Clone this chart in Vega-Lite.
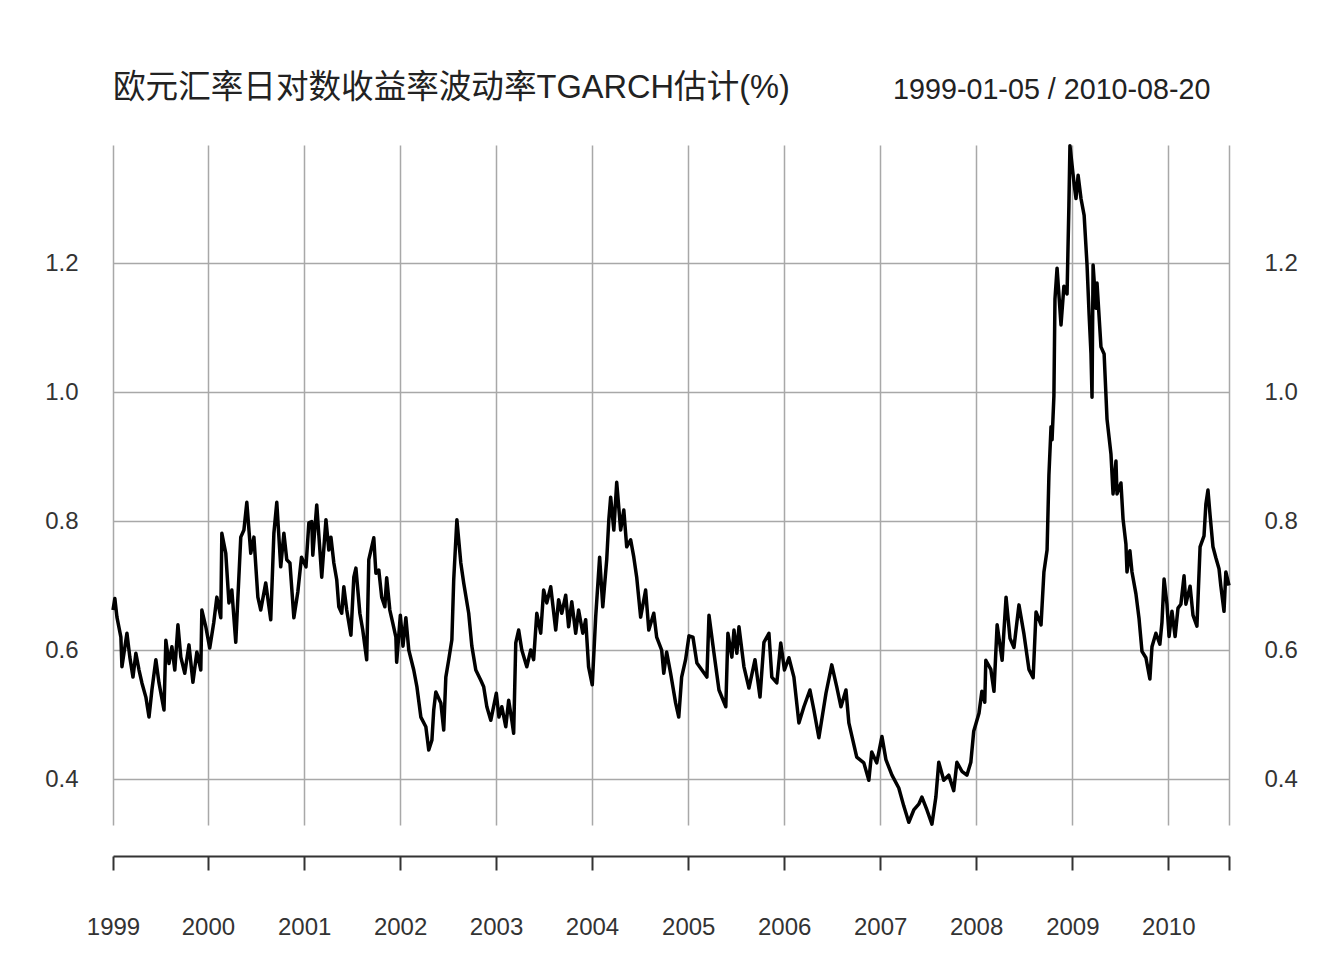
{
  "$schema": "https://vega.github.io/schema/vega-lite/v6.json",
  "width": 1116,
  "height": 680,
  "autosize": {"type": "none"},
  "padding": {"left": 113, "top": 145, "right": 115, "bottom": 135},
  "background": "white",
  "title": {
    "text": "欧元汇率日对数收益率波动率TGARCH估计(%)",
    "anchor": "start",
    "frame": "group",
    "orient": "top",
    "offset": 45,
    "dy": 101,
    "baseline": "alphabetic",
    "font": "Liberation Sans, Noto Sans CJK SC",
    "fontSize": 32.6,
    "fontWeight": "normal",
    "color": "#222222"
  },
  "config": {"view": {"stroke": null}},
  "datasets": {
    "vol": [
      {"date": "1999-01-05", "v": 0.662}, {"date": "1999-01-12", "v": 0.680}, {"date": "1999-01-20", "v": 0.651},
      {"date": "1999-02-04", "v": 0.620}, {"date": "1999-02-08", "v": 0.574}, {"date": "1999-02-27", "v": 0.626},
      {"date": "1999-03-10", "v": 0.589}, {"date": "1999-03-22", "v": 0.558}, {"date": "1999-04-02", "v": 0.595},
      {"date": "1999-04-14", "v": 0.569}, {"date": "1999-04-25", "v": 0.549}, {"date": "1999-05-10", "v": 0.527},
      {"date": "1999-05-22", "v": 0.496}, {"date": "1999-06-02", "v": 0.538}, {"date": "1999-06-17", "v": 0.585},
      {"date": "1999-06-29", "v": 0.549}, {"date": "1999-07-18", "v": 0.507}, {"date": "1999-07-25", "v": 0.615},
      {"date": "1999-08-06", "v": 0.579}, {"date": "1999-08-17", "v": 0.605}, {"date": "1999-08-28", "v": 0.569},
      {"date": "1999-09-09", "v": 0.639}, {"date": "1999-09-20", "v": 0.589}, {"date": "1999-10-05", "v": 0.564},
      {"date": "1999-10-21", "v": 0.608}, {"date": "1999-11-05", "v": 0.550}, {"date": "1999-11-20", "v": 0.597},
      {"date": "1999-12-05", "v": 0.569}, {"date": "1999-12-09", "v": 0.662}, {"date": "1999-12-24", "v": 0.636},
      {"date": "2000-01-08", "v": 0.603}, {"date": "2000-01-23", "v": 0.642}, {"date": "2000-02-04", "v": 0.682},
      {"date": "2000-02-19", "v": 0.650}, {"date": "2000-02-23", "v": 0.781}, {"date": "2000-03-09", "v": 0.750},
      {"date": "2000-03-21", "v": 0.673}, {"date": "2000-04-01", "v": 0.693}, {"date": "2000-04-16", "v": 0.612},
      {"date": "2000-05-05", "v": 0.775}, {"date": "2000-05-17", "v": 0.786}, {"date": "2000-05-28", "v": 0.829},
      {"date": "2000-06-12", "v": 0.750}, {"date": "2000-06-24", "v": 0.775}, {"date": "2000-07-09", "v": 0.682},
      {"date": "2000-07-20", "v": 0.662}, {"date": "2000-08-08", "v": 0.704}, {"date": "2000-08-27", "v": 0.647},
      {"date": "2000-09-08", "v": 0.781}, {"date": "2000-09-19", "v": 0.829}, {"date": "2000-10-04", "v": 0.729},
      {"date": "2000-10-16", "v": 0.781}, {"date": "2000-10-27", "v": 0.740}, {"date": "2000-11-08", "v": 0.735},
      {"date": "2000-11-23", "v": 0.650}, {"date": "2000-12-08", "v": 0.690}, {"date": "2000-12-22", "v": 0.744},
      {"date": "2001-01-08", "v": 0.729}, {"date": "2001-01-19", "v": 0.797}, {"date": "2001-01-30", "v": 0.799},
      {"date": "2001-02-03", "v": 0.747}, {"date": "2001-02-18", "v": 0.825}, {"date": "2001-03-09", "v": 0.713},
      {"date": "2001-03-25", "v": 0.802}, {"date": "2001-04-05", "v": 0.755}, {"date": "2001-04-13", "v": 0.775},
      {"date": "2001-04-24", "v": 0.735}, {"date": "2001-05-05", "v": 0.709}, {"date": "2001-05-13", "v": 0.667},
      {"date": "2001-05-24", "v": 0.657}, {"date": "2001-06-01", "v": 0.698}, {"date": "2001-06-12", "v": 0.662},
      {"date": "2001-06-28", "v": 0.623}, {"date": "2001-07-09", "v": 0.713}, {"date": "2001-07-17", "v": 0.727},
      {"date": "2001-08-01", "v": 0.657}, {"date": "2001-08-12", "v": 0.631}, {"date": "2001-08-27", "v": 0.585},
      {"date": "2001-09-04", "v": 0.740}, {"date": "2001-09-23", "v": 0.774}, {"date": "2001-10-01", "v": 0.719},
      {"date": "2001-10-12", "v": 0.724}, {"date": "2001-10-23", "v": 0.682}, {"date": "2001-11-04", "v": 0.667},
      {"date": "2001-11-11", "v": 0.712}, {"date": "2001-11-23", "v": 0.662}, {"date": "2001-12-04", "v": 0.642},
      {"date": "2001-12-16", "v": 0.620}, {"date": "2001-12-19", "v": 0.581},
      {"date": "2002-01-02", "v": 0.654}, {"date": "2002-01-12", "v": 0.606}, {"date": "2002-01-23", "v": 0.650},
      {"date": "2002-02-03", "v": 0.600}, {"date": "2002-02-22", "v": 0.569}, {"date": "2002-03-06", "v": 0.543},
      {"date": "2002-03-21", "v": 0.496}, {"date": "2002-04-09", "v": 0.481}, {"date": "2002-04-20", "v": 0.445},
      {"date": "2002-05-02", "v": 0.460}, {"date": "2002-05-09", "v": 0.507}, {"date": "2002-05-17", "v": 0.535},
      {"date": "2002-06-05", "v": 0.518}, {"date": "2002-06-16", "v": 0.476}, {"date": "2002-06-24", "v": 0.558},
      {"date": "2002-07-05", "v": 0.585}, {"date": "2002-07-17", "v": 0.616}, {"date": "2002-07-24", "v": 0.709},
      {"date": "2002-08-05", "v": 0.802}, {"date": "2002-08-20", "v": 0.735}, {"date": "2002-08-31", "v": 0.704},
      {"date": "2002-09-19", "v": 0.657}, {"date": "2002-10-01", "v": 0.606}, {"date": "2002-10-16", "v": 0.569},
      {"date": "2002-11-04", "v": 0.553}, {"date": "2002-11-15", "v": 0.543}, {"date": "2002-11-27", "v": 0.512},
      {"date": "2002-12-12", "v": 0.491},
      {"date": "2003-01-02", "v": 0.533}, {"date": "2003-01-12", "v": 0.496}, {"date": "2003-01-23", "v": 0.512},
      {"date": "2003-02-07", "v": 0.481}, {"date": "2003-02-18", "v": 0.522}, {"date": "2003-03-02", "v": 0.491},
      {"date": "2003-03-09", "v": 0.471}, {"date": "2003-03-17", "v": 0.611}, {"date": "2003-03-28", "v": 0.631},
      {"date": "2003-04-09", "v": 0.600}, {"date": "2003-04-28", "v": 0.574}, {"date": "2003-05-13", "v": 0.600},
      {"date": "2003-05-24", "v": 0.585}, {"date": "2003-06-05", "v": 0.657}, {"date": "2003-06-20", "v": 0.626},
      {"date": "2003-07-01", "v": 0.693}, {"date": "2003-07-13", "v": 0.673}, {"date": "2003-07-28", "v": 0.698},
      {"date": "2003-08-16", "v": 0.631}, {"date": "2003-08-27", "v": 0.678}, {"date": "2003-09-08", "v": 0.657},
      {"date": "2003-09-23", "v": 0.685}, {"date": "2003-10-04", "v": 0.636}, {"date": "2003-10-16", "v": 0.675},
      {"date": "2003-10-31", "v": 0.626}, {"date": "2003-11-11", "v": 0.662}, {"date": "2003-11-27", "v": 0.626},
      {"date": "2003-12-08", "v": 0.647}, {"date": "2003-12-19", "v": 0.574},
      {"date": "2004-01-02", "v": 0.546}, {"date": "2004-01-15", "v": 0.651}, {"date": "2004-01-30", "v": 0.744},
      {"date": "2004-02-11", "v": 0.667}, {"date": "2004-02-26", "v": 0.740}, {"date": "2004-03-05", "v": 0.802},
      {"date": "2004-03-12", "v": 0.837}, {"date": "2004-03-24", "v": 0.786}, {"date": "2004-04-04", "v": 0.860},
      {"date": "2004-04-19", "v": 0.786}, {"date": "2004-05-01", "v": 0.817}, {"date": "2004-05-12", "v": 0.760},
      {"date": "2004-05-27", "v": 0.771}, {"date": "2004-06-08", "v": 0.744}, {"date": "2004-06-19", "v": 0.713},
      {"date": "2004-07-04", "v": 0.651}, {"date": "2004-07-23", "v": 0.693}, {"date": "2004-08-04", "v": 0.631},
      {"date": "2004-08-23", "v": 0.657}, {"date": "2004-09-03", "v": 0.620}, {"date": "2004-09-22", "v": 0.600},
      {"date": "2004-09-30", "v": 0.564}, {"date": "2004-10-11", "v": 0.597}, {"date": "2004-10-26", "v": 0.564},
      {"date": "2004-11-14", "v": 0.518}, {"date": "2004-11-26", "v": 0.496}, {"date": "2004-12-07", "v": 0.558},
      {"date": "2004-12-22", "v": 0.585},
      {"date": "2005-01-04", "v": 0.622}, {"date": "2005-01-19", "v": 0.620}, {"date": "2005-02-03", "v": 0.580},
      {"date": "2005-02-22", "v": 0.569}, {"date": "2005-03-13", "v": 0.558}, {"date": "2005-03-21", "v": 0.654},
      {"date": "2005-04-09", "v": 0.595}, {"date": "2005-04-28", "v": 0.538}, {"date": "2005-05-24", "v": 0.512},
      {"date": "2005-06-01", "v": 0.626}, {"date": "2005-06-16", "v": 0.589}, {"date": "2005-06-24", "v": 0.631},
      {"date": "2005-07-05", "v": 0.595}, {"date": "2005-07-13", "v": 0.636}, {"date": "2005-08-01", "v": 0.574},
      {"date": "2005-08-20", "v": 0.541}, {"date": "2005-09-12", "v": 0.585}, {"date": "2005-10-01", "v": 0.527},
      {"date": "2005-10-16", "v": 0.612}, {"date": "2005-11-04", "v": 0.626}, {"date": "2005-11-15", "v": 0.558},
      {"date": "2005-12-04", "v": 0.549}, {"date": "2005-12-19", "v": 0.611},
      {"date": "2006-01-02", "v": 0.569}, {"date": "2006-01-19", "v": 0.588}, {"date": "2006-02-07", "v": 0.558},
      {"date": "2006-02-26", "v": 0.487}, {"date": "2006-03-17", "v": 0.512}, {"date": "2006-04-09", "v": 0.538},
      {"date": "2006-04-24", "v": 0.507}, {"date": "2006-05-13", "v": 0.464}, {"date": "2006-06-09", "v": 0.533},
      {"date": "2006-07-01", "v": 0.577}, {"date": "2006-07-20", "v": 0.543}, {"date": "2006-08-05", "v": 0.512},
      {"date": "2006-08-24", "v": 0.538}, {"date": "2006-09-04", "v": 0.487}, {"date": "2006-10-04", "v": 0.434},
      {"date": "2006-10-31", "v": 0.425}, {"date": "2006-11-19", "v": 0.398}, {"date": "2006-11-30", "v": 0.442},
      {"date": "2006-12-19", "v": 0.425},
      {"date": "2007-01-08", "v": 0.466}, {"date": "2007-01-23", "v": 0.430}, {"date": "2007-02-15", "v": 0.406},
      {"date": "2007-03-13", "v": 0.386}, {"date": "2007-04-01", "v": 0.358}, {"date": "2007-04-20", "v": 0.333},
      {"date": "2007-05-09", "v": 0.352}, {"date": "2007-05-28", "v": 0.361}, {"date": "2007-06-09", "v": 0.372},
      {"date": "2007-06-28", "v": 0.352}, {"date": "2007-07-17", "v": 0.330}, {"date": "2007-08-01", "v": 0.372},
      {"date": "2007-08-12", "v": 0.426}, {"date": "2007-08-31", "v": 0.398}, {"date": "2007-09-19", "v": 0.406},
      {"date": "2007-10-08", "v": 0.382}, {"date": "2007-10-20", "v": 0.426}, {"date": "2007-11-08", "v": 0.412},
      {"date": "2007-11-27", "v": 0.406}, {"date": "2007-12-12", "v": 0.426}, {"date": "2007-12-23", "v": 0.474},
      {"date": "2008-01-12", "v": 0.502}, {"date": "2008-01-23", "v": 0.536}, {"date": "2008-02-03", "v": 0.519},
      {"date": "2008-02-07", "v": 0.584}, {"date": "2008-02-26", "v": 0.570}, {"date": "2008-03-09", "v": 0.536},
      {"date": "2008-03-21", "v": 0.639}, {"date": "2008-04-09", "v": 0.584}, {"date": "2008-04-24", "v": 0.682},
      {"date": "2008-05-09", "v": 0.618}, {"date": "2008-05-24", "v": 0.604}, {"date": "2008-06-12", "v": 0.670},
      {"date": "2008-07-01", "v": 0.625}, {"date": "2008-07-20", "v": 0.570}, {"date": "2008-08-05", "v": 0.557},
      {"date": "2008-08-16", "v": 0.659}, {"date": "2008-09-04", "v": 0.639}, {"date": "2008-09-15", "v": 0.721},
      {"date": "2008-09-27", "v": 0.755}, {"date": "2008-10-04", "v": 0.871}, {"date": "2008-10-12", "v": 0.946},
      {"date": "2008-10-16", "v": 0.926}, {"date": "2008-10-23", "v": 0.994}, {"date": "2008-10-27", "v": 1.144},
      {"date": "2008-11-04", "v": 1.192}, {"date": "2008-11-19", "v": 1.104}, {"date": "2008-11-30", "v": 1.164},
      {"date": "2008-12-12", "v": 1.152}, {"date": "2008-12-19", "v": 1.289}, {"date": "2008-12-23", "v": 1.382},
      {"date": "2009-01-08", "v": 1.322}, {"date": "2009-01-15", "v": 1.300}, {"date": "2009-01-23", "v": 1.336},
      {"date": "2009-02-03", "v": 1.300}, {"date": "2009-02-15", "v": 1.274}, {"date": "2009-02-26", "v": 1.197},
      {"date": "2009-03-06", "v": 1.119}, {"date": "2009-03-13", "v": 1.059}, {"date": "2009-03-17", "v": 0.992},
      {"date": "2009-03-21", "v": 1.197}, {"date": "2009-04-01", "v": 1.130}, {"date": "2009-04-05", "v": 1.169},
      {"date": "2009-04-20", "v": 1.070}, {"date": "2009-05-02", "v": 1.059}, {"date": "2009-05-13", "v": 0.958},
      {"date": "2009-05-28", "v": 0.904}, {"date": "2009-06-05", "v": 0.842}, {"date": "2009-06-16", "v": 0.893},
      {"date": "2009-06-20", "v": 0.842}, {"date": "2009-07-05", "v": 0.859}, {"date": "2009-07-13", "v": 0.803},
      {"date": "2009-07-24", "v": 0.764}, {"date": "2009-07-28", "v": 0.721}, {"date": "2009-08-08", "v": 0.754},
      {"date": "2009-08-16", "v": 0.721}, {"date": "2009-08-31", "v": 0.687}, {"date": "2009-09-12", "v": 0.648},
      {"date": "2009-09-23", "v": 0.598}, {"date": "2009-10-08", "v": 0.588}, {"date": "2009-10-23", "v": 0.555},
      {"date": "2009-10-31", "v": 0.605}, {"date": "2009-11-15", "v": 0.626}, {"date": "2009-11-30", "v": 0.609},
      {"date": "2009-12-08", "v": 0.643}, {"date": "2009-12-16", "v": 0.710}, {"date": "2009-12-27", "v": 0.671},
      {"date": "2010-01-04", "v": 0.621}, {"date": "2010-01-15", "v": 0.660}, {"date": "2010-01-27", "v": 0.621},
      {"date": "2010-02-07", "v": 0.665}, {"date": "2010-02-18", "v": 0.671}, {"date": "2010-03-02", "v": 0.715},
      {"date": "2010-03-09", "v": 0.671}, {"date": "2010-03-25", "v": 0.699}, {"date": "2010-04-05", "v": 0.654},
      {"date": "2010-04-20", "v": 0.637}, {"date": "2010-05-02", "v": 0.760}, {"date": "2010-05-17", "v": 0.777},
      {"date": "2010-05-24", "v": 0.826}, {"date": "2010-06-01", "v": 0.848}, {"date": "2010-06-09", "v": 0.809},
      {"date": "2010-06-20", "v": 0.760}, {"date": "2010-07-01", "v": 0.743}, {"date": "2010-07-13", "v": 0.726},
      {"date": "2010-07-20", "v": 0.699}, {"date": "2010-08-01", "v": 0.660}, {"date": "2010-08-08", "v": 0.721},
      {"date": "2010-08-20", "v": 0.700}
    ]
  },
  "data": {"name": "vol"},
  "resolve": {"axis": {"x": "independent", "y": "independent"}},
  "layer": [
    {
      "mark": {"type": "line", "color": "#000000", "strokeWidth": 3.5, "strokeJoin": "round"},
      "encoding": {
        "x": {
          "field": "date",
          "type": "temporal",
          "scale": {
            "type": "utc",
            "nice": false,
            "domain": [
              {"year": 1999, "month": 1, "date": 5, "utc": true},
              {"year": 2010, "month": 8, "date": 20, "utc": true}
            ]
          },
          "axis": {
            "orient": "bottom",
            "title": null,
            "offset": 31,
            "values": [
              {"year": 1999, "month": 1, "date": 5, "utc": true},
              {"year": 2000, "month": 1, "date": 1, "utc": true},
              {"year": 2001, "month": 1, "date": 1, "utc": true},
              {"year": 2002, "month": 1, "date": 1, "utc": true},
              {"year": 2003, "month": 1, "date": 1, "utc": true},
              {"year": 2004, "month": 1, "date": 1, "utc": true},
              {"year": 2005, "month": 1, "date": 1, "utc": true},
              {"year": 2006, "month": 1, "date": 1, "utc": true},
              {"year": 2007, "month": 1, "date": 1, "utc": true},
              {"year": 2008, "month": 1, "date": 1, "utc": true},
              {"year": 2009, "month": 1, "date": 1, "utc": true},
              {"year": 2010, "month": 1, "date": 1, "utc": true},
              {"year": 2010, "month": 8, "date": 20, "utc": true}
            ],
            "labelExpr": "utcFormat(datum.value, '%m-%d') == '08-20' ? '' : utcFormat(datum.value, '%Y')",
            "labelOverlap": false,
            "labelBound": false,
            "labelFlush": false,
            "labelFont": "Liberation Sans",
            "labelFontSize": 24,
            "labelColor": "#333333",
            "labelPadding": 45,
            "domain": true,
            "domainColor": "#333333",
            "domainWidth": 2,
            "ticks": true,
            "tickColor": "#333333",
            "tickWidth": 2,
            "tickSize": 14,
            "grid": true,
            "gridColor": "#a8a8a8",
            "gridWidth": 1.5
          }
        },
        "y": {
          "field": "v",
          "type": "quantitative",
          "scale": {"domain": [0.3287, 1.383], "nice": false, "zero": false},
          "axis": {
            "orient": "left",
            "title": null,
            "values": [0.4, 0.6, 0.8, 1.0, 1.2],
            "format": ".1f",
            "domain": false,
            "ticks": false,
            "tickSize": 0,
            "labelPadding": 35,
            "labelFont": "Liberation Sans",
            "labelFontSize": 24,
            "labelColor": "#333333",
            "grid": true,
            "gridColor": "#a8a8a8",
            "gridWidth": 1.5
          }
        }
      }
    },
    {
      "mark": {"type": "line", "strokeOpacity": 0},
      "encoding": {
        "x": {
          "field": "date",
          "type": "temporal",
          "axis": {
            "orient": "top",
            "title": "1999-01-05 / 2010-08-20",
            "titleX": 1097,
            "titleY": -47,
            "titleAlign": "right",
            "titleAnchor": null,
            "titleBaseline": "alphabetic",
            "titleFont": "Liberation Sans",
            "titleFontSize": 28.7,
            "titleFontWeight": "normal",
            "titleColor": "#222222",
            "domain": false,
            "ticks": false,
            "labels": false,
            "grid": false
          }
        },
        "y": {
          "field": "v",
          "type": "quantitative",
          "axis": {
            "orient": "right",
            "title": null,
            "values": [0.4, 0.6, 0.8, 1.0, 1.2],
            "format": ".1f",
            "domain": false,
            "ticks": false,
            "tickSize": 0,
            "labelPadding": 35,
            "labelFont": "Liberation Sans",
            "labelFontSize": 24,
            "labelColor": "#333333",
            "grid": false
          }
        }
      }
    }
  ]
}
